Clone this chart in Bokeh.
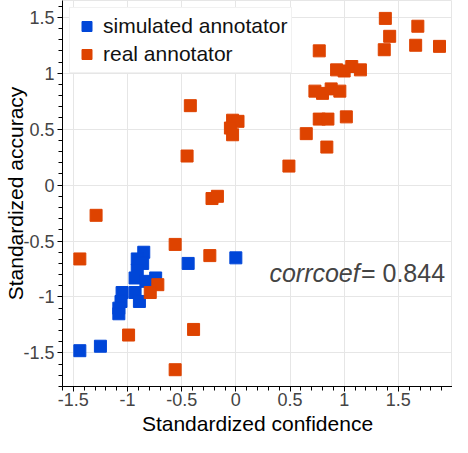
import numpy as np
from bokeh.plotting import figure
from bokeh.models import FixedTicker, Label, Range1d, CustomJSTickFormatter
from bokeh.embed import file_html
from bokeh.resources import INLINE

# ---- data ----
sim_x = [0.00, -0.44, -1.44, -1.25, -0.85, -0.91, -0.86, -0.91, -0.93, -0.83,
         -0.74, -1.05, -0.93, -0.89, -1.06, -1.08, -1.08]
sim_y = [-0.65, -0.70, -1.48, -1.44, -0.60, -0.66, -0.70, -0.76, -0.83, -0.86,
         -0.83, -0.96, -0.96, -1.04, -1.04, -1.10, -1.15]

real_x = [1.38, 1.68, 1.42, 1.37, 1.66, 1.88, 0.77,
          0.93, 1.00, 1.07, 1.15,
          0.73, 0.80, 0.88, 0.96,
          0.77, 0.85, 1.02, 0.65, 0.84, 0.49,
          -0.42, -0.03, 0.02, -0.05, -0.03, -0.45,
          -0.22, -0.17, -1.29, -0.56, -1.44, -0.24,
          -0.72, -0.79, -0.39, -0.99, -0.56]
real_y = [1.49, 1.42, 1.33, 1.21, 1.25, 1.24, 1.20,
          1.03, 1.02, 1.06, 1.03,
          0.84, 0.82, 0.86, 0.84,
          0.59, 0.59, 0.61, 0.46, 0.34, 0.17,
          0.71, 0.58, 0.57, 0.51, 0.45, 0.26,
          -0.12, -0.10, -0.27, -0.53, -0.66, -0.63,
          -0.89, -0.96, -1.29, -1.34, -1.65]

x_ticks = [-1.5, -1.0, -0.5, 0.0, 0.5, 1.0, 1.5]
y_ticks = [-1.5, -1.0, -0.5, 0.0, 0.5, 1.0, 1.5]
corrcoef = 0.844

FONT = "Liberation Sans"

p = figure(width=452, height=437, output_backend="svg", toolbar_location=None,
           x_range=Range1d(-1.6, 2.0), y_range=Range1d(-1.8, 1.65),
           min_border_left=62, min_border_right=0, min_border_top=0,
           min_border_bottom=48)

p.scatter(sim_x, sim_y, marker="square", size=12, fill_color="#0046d8",
          line_color="#0046d8", legend_label="simulated annotator")
p.scatter(real_x, real_y, marker="square", size=12, fill_color="#de4300",
          line_color="#de4300", legend_label="real annotator")

fmt = CustomJSTickFormatter(code="return String(Math.round(tick*10)/10);")
for ax, ticks, lo, hi in ((p.xaxis[0], x_ticks, -1.6, 2.0), (p.yaxis[0], y_ticks, -1.8, 1.6)):
    ax.ticker = FixedTicker(ticks=ticks, minor_ticks=list(np.round(np.arange(lo, hi + 0.001, 0.1), 2)))
    ax.formatter = fmt
    ax.major_label_text_font = FONT
    ax.major_label_text_font_size = "18px"
    ax.major_label_text_color = "#444444"
    ax.axis_label_text_font = FONT
    ax.axis_label_text_font_size = "21px"
    ax.axis_label_text_font_style = "normal"
    ax.axis_label_text_color = "#000000"
    ax.major_tick_in = 0
    ax.major_tick_out = 5
    ax.minor_tick_in = 0
    ax.minor_tick_out = 4
    ax.axis_line_color = "black"
    ax.major_tick_line_color = "black"
    ax.minor_tick_line_color = "black"

p.xaxis.axis_label = "Standardized confidence"
p.yaxis.axis_label = "Standardized accuracy"
p.xaxis.major_label_standoff = 1
p.xaxis.axis_label_standoff = 3
p.yaxis.major_label_standoff = 3
p.yaxis.axis_label_standoff = -7

p.grid.grid_line_color = "#e6e6e6"
p.outline_line_color = "#e6e6e6"

lg = p.legend[0]
lg.location = "top_left"
lg.margin = 7
lg.padding = 4
lg.spacing = 0
lg.glyph_width = 25
lg.glyph_height = 28
lg.label_standoff = 4
lg.label_text_font = FONT
lg.label_text_font_size = "21px"
lg.label_text_color = "#111111"
lg.border_line_color = "#e3e3e3"
lg.background_fill_alpha = 1.0

p.add_layout(Label(x=0.31, y=-0.79, text="corrcoef", text_font=FONT,
                   text_font_style="italic", text_font_size="25px",
                   text_color="#444444", text_baseline="alphabetic"))
p.add_layout(Label(x=1.155, y=-0.79, text="= " + str(corrcoef), text_font=FONT,
                   text_font_size="25px", text_color="#444444",
                   text_baseline="alphabetic"))

open("out.html", "w").write(file_html(p, INLINE))
